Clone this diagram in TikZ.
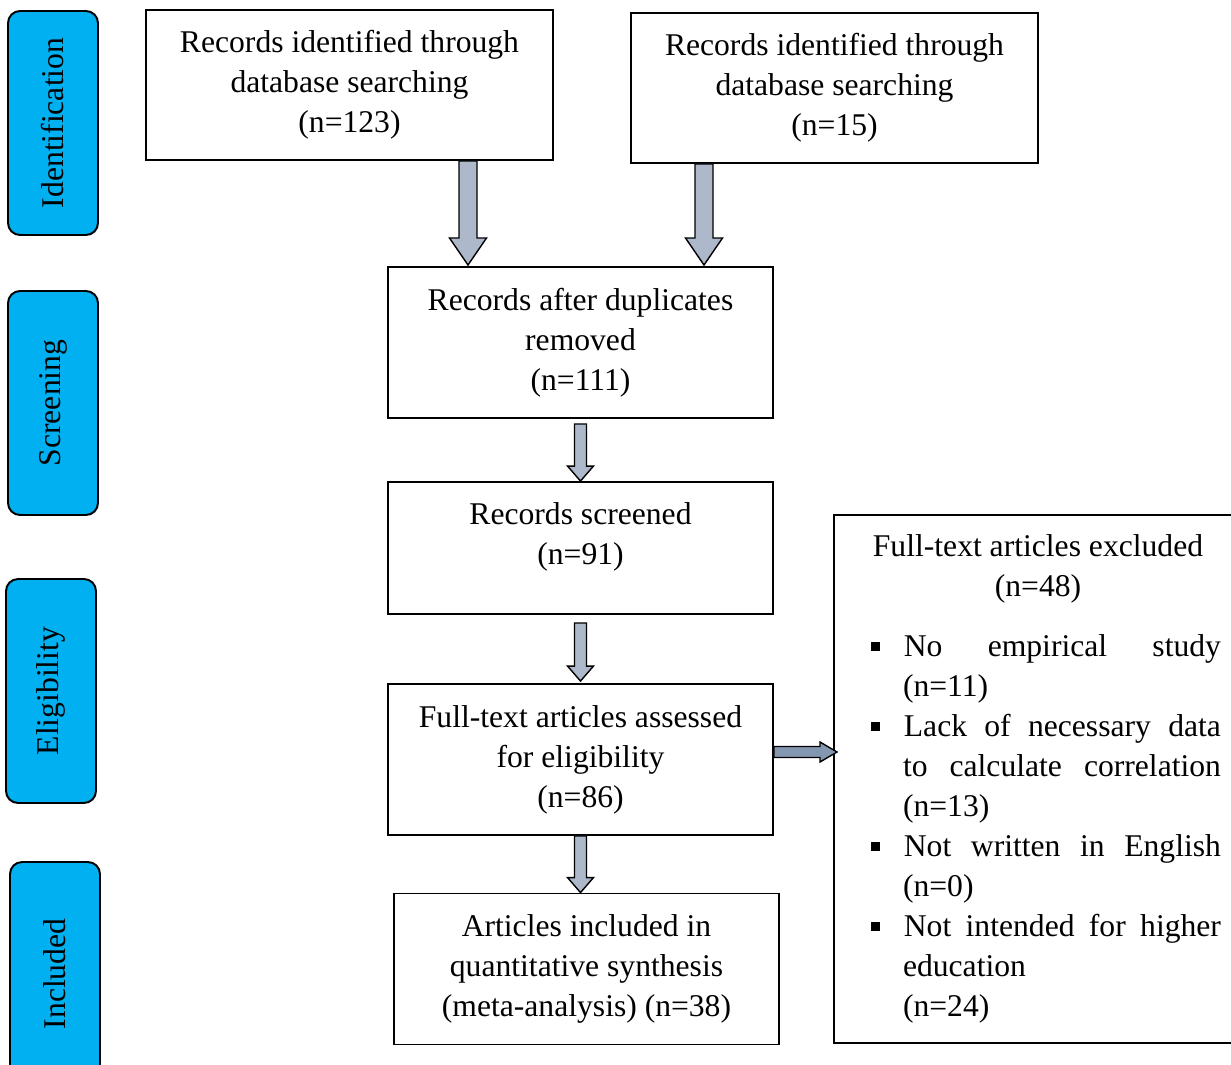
\documentclass[tikz,border=0pt]{standalone}
\usepackage{fontspec}
\setmainfont{Liberation Serif}
\usepackage{tikz}
\usetikzlibrary{calc}

\definecolor{tabblue}{RGB}{0,176,240}
\definecolor{arrowgray}{RGB}{173,185,202}
\definecolor{arrowdark}{RGB}{132,151,176}

\tikzset{
  box/.style={draw, line width=1.1pt, align=center, minimum width=7.7cm, minimum height=3.02cm, inner sep=0pt},
  tab/.style={draw, line width=1.1pt, fill=tabblue, rounded corners=0.24cm, rotate=90, minimum width=4.48cm, minimum height=1.8cm},
  blockarrow/.style={draw, line width=0.8pt, fill=arrowgray, line join=miter},
  sidearrow/.style={blockarrow, fill=arrowdark}
}

\newcommand{\sqbullet}{\rule[0.18em]{0.28em}{0.28em}}

% start, tip, shaft half width, head half width, head length
\newcommand{\blockdown}[5]{%
  \draw[blockarrow] let \p1=(#1), \p2=(#2) in
    (\x2-#3,\y1) -- (\x2+#3,\y1) -- (\x2+#3,\y2+#5) -- (\x2+#4,\y2+#5)
    -- (\x2,\y2) -- (\x2-#4,\y2+#5) -- (\x2-#3,\y2+#5) -- cycle;}
\newcommand{\blockright}[5]{%
  \draw[sidearrow] let \p1=(#1), \p2=(#2) in
    (\x1,\y2+#3) -- (\x2-#5,\y2+#3) -- (\x2-#5,\y2+#4) -- (\x2,\y2)
    -- (\x2-#5,\y2-#4) -- (\x2-#5,\y2-#3) -- (\x1,\y2-#3) -- cycle;}

\begin{document}
\begin{tikzpicture}[x=0.02cm, y=-0.02cm, every node/.style={font=\fontsize{18}{22.8}\selectfont}]
\useasboundingbox (0,0) rectangle (1231,1065);

\node[tab] (t1) at (53,123) {Identification};
\node[tab] (t2) at (53,403) {Screening};
\node[tab] (t3) at (51,691) {Eligibility};
\node[tab] (t4) at (55,974) {Included};

\node[box, minimum width=8.14cm, minimum height=3cm] (A) at (349.5,85) {Records identified through\\database searching\\(n=123)};
\node[box, minimum width=8.14cm, minimum height=3cm] (B) at (834.5,88) {Records identified through\\database searching\\(n=15)};
\node[box] (C) at (580.5,342.5) {Records after duplicates\\removed\\(n=111)};
\node[box, minimum height=2.64cm] (D) at (580.5,548) {Records screened\\(n=91)\\[-6pt]~};
\node[box] (E) at (580.5,759.5) {Full-text articles assessed\\for eligibility\\(n=86)};
\node[box] (F) at (586.5,969) {Articles included in\\quantitative synthesis\\(meta-analysis) (n=38)};
\node[box, minimum width=8.48cm, minimum height=10.56cm, text width=7cm, align=justify] (G) at (1046,779) {%
  {\centering\rightskip=0.32cm plus 1fil Full-text articles excluded\\(n=48)\par}
  \begin{list}{\sqbullet}{\setlength{\leftmargin}{0.64cm}\setlength{\labelsep}{0.48cm}%
    \setlength{\labelwidth}{0.16cm}\setlength{\itemsep}{0pt}\setlength{\parsep}{0pt}%
    \setlength{\topsep}{0.4cm}\setlength{\partopsep}{0pt}}
  \item No empirical study\linebreak (n=11)
  \item Lack of necessary data\linebreak to calculate correlation\linebreak (n=13)
  \item Not written in English\linebreak (n=0)
  \item Not intended for higher\linebreak education\newline (n=24)
  \end{list}};

\coordinate (ca) at (468,265);
\coordinate (cb) at (704,265);
\coordinate (gin) at (837,752);

\blockdown{A.south -| ca}{ca}{0.18cm}{0.37cm}{0.54cm}
\blockdown{B.south -| cb}{cb}{0.18cm}{0.37cm}{0.54cm}
\blockdown{$(C.south)+(0,5)$}{D.north}{0.12cm}{0.26cm}{0.3cm}
\blockdown{$(D.south)+(0,8)$}{$(E.north)+(0,-2)$}{0.12cm}{0.26cm}{0.3cm}
\blockdown{E.south}{E.south |- F.north}{0.12cm}{0.26cm}{0.3cm}
\blockright{E.east |- gin}{gin}{0.11cm}{0.2cm}{0.34cm}
\end{tikzpicture}
\end{document}
